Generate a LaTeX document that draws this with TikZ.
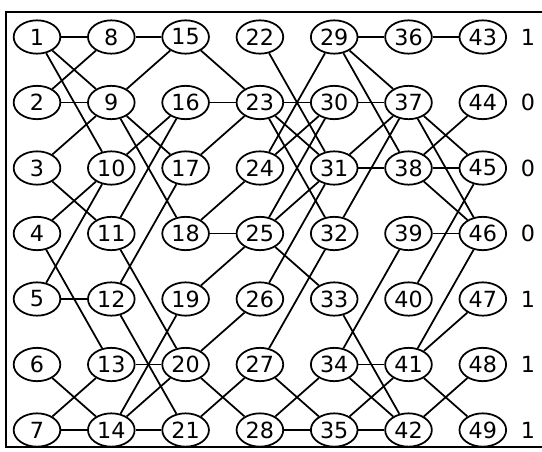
\documentclass[tikz,border=0pt]{standalone}
\usepackage{fontspec}
\setmainfont{DejaVu Sans}
\usetikzlibrary{positioning, shapes.geometric}

\begin{document}
\begin{tikzpicture}[
    x=0.03cm, y=-0.03cm,
    vtx/.style={draw, ellipse, line width=1.5pt, minimum width=1.4cm,
                minimum height=1.0cm, inner sep=0pt, font=\fontsize{19}{22}\selectfont},
    lnk/.style={line width=1.5pt},
    val/.style={font=\fontsize{19}{22}\selectfont}
]
\useasboundingbox (0,0) rectangle (542,451);
\draw[lnk] (548,12) -- (6,12) -- (6,447) -- (548,447);

% seven columns of seven nodes
\foreach \c in {1,...,7}
  \foreach \r in {1,...,7} {
    \pgfmathtruncatemacro{\k}{7*(\c-1)+\r}
    \node[vtx] (n\k) at ({37+74.3*(\c-1)}, {37+65.5*(\r-1)}) {\k};
  }

% values on the right
\foreach \r/\v in {1/1, 2/0, 3/0, 4/0, 5/1, 6/1, 7/1}
  \node[val] (o\r) at (528, {37+65.5*(\r-1)}) {\v};

% links between columns
\foreach \a/\b in {1/8, 1/9, 1/10, 2/8, 2/9, 3/9, 3/11, 4/10, 4/13, 5/10, 5/12, 6/14, 7/13, 7/14,
                   8/15, 9/15, 9/17, 9/18, 10/16, 11/16, 11/20, 12/17, 12/21, 13/20, 14/19, 14/20, 14/21,
                   15/23, 16/23, 17/23, 18/24, 18/25, 19/25, 20/26, 20/28, 21/27,
                   22/31, 23/30, 23/31, 23/32, 24/29, 24/30, 25/30, 25/31, 25/33, 26/31, 27/32, 27/35, 28/34, 28/35,
                   29/36, 29/37, 29/38, 30/37, 31/37, 31/38, 32/37, 33/42, 34/39, 34/41, 34/42, 35/41, 35/42,
                   36/43, 37/45, 37/46, 38/44, 38/45, 38/46, 39/46, 40/45, 41/46, 41/47, 41/49, 42/48}
  \draw[lnk] (n\a) -- (n\b);
\end{tikzpicture}
\end{document}
